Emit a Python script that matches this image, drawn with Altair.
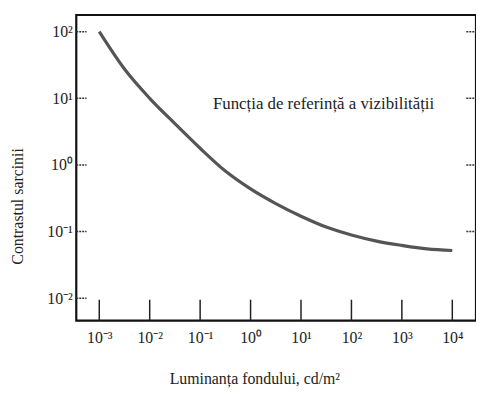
import altair as alt
import pandas as pd

# Curve
luminance = [0.001, 0.00316, 0.01, 0.0316, 0.1, 0.316, 1, 3.16, 10, 31.6, 100, 316, 1000, 3162, 10000]
contrast = [100, 27.5, 10, 4.17, 1.78, 0.81, 0.437, 0.263, 0.17, 0.117, 0.089, 0.072, 0.062, 0.055, 0.052]

x_ticks = [0.001, 0.01, 0.1, 1, 10, 100, 1000, 10000]
y_ticks = [0.01, 0.1, 1, 10, 100]

x_title = "Luminanța fondului, cd/m²"
y_title = "Contrastul sarcinii"
note = "Funcția de referință a vizibilității"

x_dom = [3.5e-4, 2.95e4]
y_dom = [0.0046, 178]

sup = {-3: "⁻³", -2: "⁻²", -1: "⁻¹", 0: "⁰", 1: "¹", 2: "²", 3: "³", 4: "⁴"}
e = "round(log(datum.value)/LN10)"
expr = "'10' + (" + " : ".join(f"{e} == {k} ? '{v}'" for k, v in sup.items()) + " : '')"

font = "Liberation Serif"

xs = alt.Scale(type="log", domain=x_dom, nice=False)
ys = alt.Scale(type="log", domain=y_dom, nice=False)

curve = pd.DataFrame({"x": luminance, "y": contrast})

line = alt.Chart(curve).mark_line(color="#555555", strokeWidth=3.2, interpolate="monotone").encode(
    x=alt.X("x:Q", scale=xs, axis=alt.Axis(
        values=x_ticks, labelExpr=expr, title=x_title, grid=False, ticks=False, domain=False,
        labelFont=font, labelFontSize=16, labelColor="#222", labelPadding=9,
        titleFont=font, titleFontSize=16, titleFontWeight="normal", titleColor="#222",
        titleX=180, titleY=58, titleBaseline="middle")),
    y=alt.Y("y:Q", scale=ys, axis=alt.Axis(
        values=y_ticks, labelExpr=expr, title=y_title, grid=False, ticks=False, domain=False,
        labelFont=font, labelFontSize=16, labelColor="#222", labelPadding=4,
        titleFont=font, titleFontSize=16, titleFontWeight="normal", titleColor="#222",
        titleX=-59, titleY=193, titleAngle=-90, titleBaseline="middle")),
)

xt = pd.DataFrame({"x": x_ticks, "lo": [y_dom[0]] * len(x_ticks), "hi": [0.0095] * len(x_ticks)})
xrules = alt.Chart(xt).mark_rule(color="#222", strokeWidth=1.5).encode(
    x=alt.X("x:Q", scale=xs), y=alt.Y("lo:Q", scale=ys), y2="hi:Q")

yl = pd.DataFrame({"y": y_ticks, "lo": [x_dom[0]] * len(y_ticks), "hi": [0.00056] * len(y_ticks)})
ylrules = alt.Chart(yl).mark_rule(color="#333", strokeWidth=1.5, strokeDash=[2, 1]).encode(
    y=alt.Y("y:Q", scale=ys), x=alt.X("lo:Q", scale=xs), x2="hi:Q")

yr = pd.DataFrame({"y": y_ticks[1:], "lo": [1.9e4] * 4, "hi": [x_dom[1]] * 4})
yrrules = alt.Chart(yr).mark_rule(color="#333", strokeWidth=1.5, strokeDash=[2, 1]).encode(
    y=alt.Y("y:Q", scale=ys), x=alt.X("lo:Q", scale=xs), x2="hi:Q")

txt = alt.Chart(pd.DataFrame({"x": [28], "y": [8.1], "t": [note]})).mark_text(
    font=font, fontSize=17, color="#222", align="center", baseline="middle").encode(
    x=alt.X("x:Q", scale=xs), y=alt.Y("y:Q", scale=ys), text="t:N")

chart = alt.layer(line, xrules, ylrules, yrrules, txt).properties(
    width=404, height=309,
    background="white",
    autosize=alt.AutoSizeParams(type="none"),
    padding={"left": 69, "top": 5, "right": 0, "bottom": 70},
).configure_view(stroke="#111", strokeWidth=2.2)

chart.save("out.html", embed_options={"renderer": "svg", "actions": False})
